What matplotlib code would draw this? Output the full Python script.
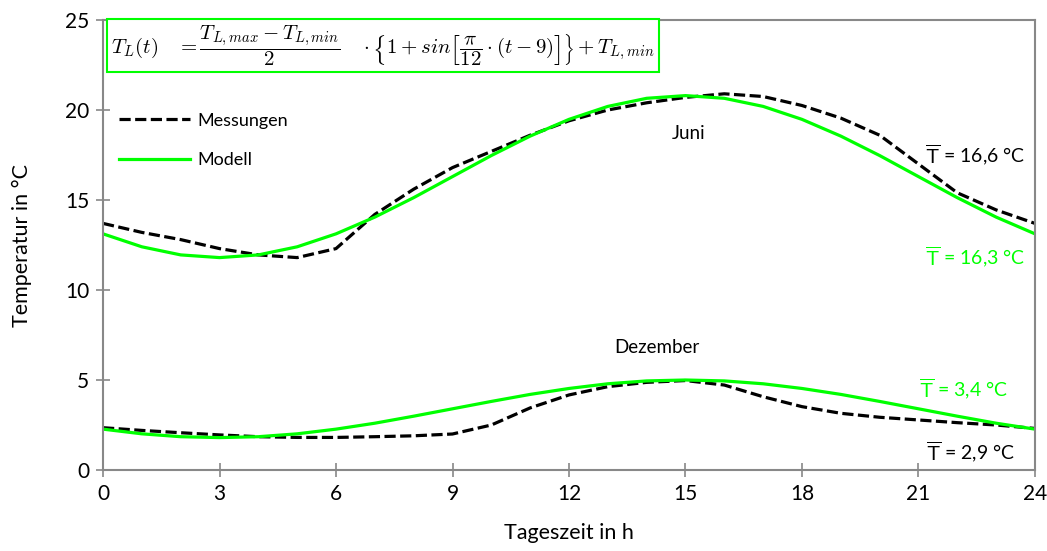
import matplotlib
matplotlib.use("Agg")
import matplotlib.pyplot as plt

plt.rcParams['font.family'] = ['Lato', 'DejaVu Sans']
plt.rcParams['mathtext.fontset'] = 'cm'

hours = list(range(25))

# Juni
juni_mess = [13.7, 13.2, 12.8, 12.3, 11.95, 11.8, 12.3, 14.2, 15.6, 16.8, 17.7, 18.6, 19.4,
             20.0, 20.4, 20.7, 20.9, 20.75, 20.25, 19.55, 18.6, 17.0, 15.4, 14.45, 13.7]
juni_mod = [13.12, 12.40, 11.95, 11.8, 11.95, 12.40, 13.12, 14.05, 15.13, 16.3, 17.47, 18.55, 19.48,
            20.20, 20.65, 20.8, 20.65, 20.20, 19.48, 18.55, 17.47, 16.3, 15.13, 14.05, 13.12]

# Dezember
dez_mess = [2.35, 2.2, 2.07, 1.95, 1.85, 1.81, 1.81, 1.85, 1.9, 2.0, 2.5, 3.45, 4.17,
            4.63, 4.87, 4.97, 4.72, 4.07, 3.52, 3.15, 2.93, 2.78, 2.63, 2.5, 2.31]
dez_mod = [2.27, 2.01, 1.85, 1.8, 1.85, 2.01, 2.27, 2.6, 2.99, 3.4, 3.81, 4.2, 4.53,
           4.79, 4.95, 5.0, 4.95, 4.79, 4.53, 4.2, 3.81, 3.4, 2.99, 2.6, 2.27]

xticks = [0, 3, 6, 9, 12, 15, 18, 21, 24]
yticks = [0, 5, 10, 15, 20, 25]

green = '#00ff00'
dash = (0, (3.5, 1.4))

fig = plt.figure(figsize=(10.47, 5.51), dpi=100)
ax = fig.add_axes([0.0984, 0.147, 0.8901, 0.8167])

ax.plot(hours, juni_mess, color='black', lw=2.3, linestyle=dash, label='Messungen')
ax.plot(hours, juni_mod, color=green, lw=2.3, label='Modell')
ax.plot(hours, dez_mess, color='black', lw=2.3, linestyle=dash)
ax.plot(hours, dez_mod, color=green, lw=2.3)

ax.set_xlim(0, 24)
ax.set_ylim(0, 25)
ax.set_xticks(xticks)
ax.set_yticks(yticks)
ax.tick_params(axis='both', direction='inout', length=10, width=1.2, color='#888888',
               labelsize=15, pad=5)
ax.tick_params(axis='x', pad=5)
for s in ax.spines.values():
    s.set_color('#888888')
    s.set_linewidth(1.5)

ax.set_xlabel('Tageszeit in h', fontsize=15.5, labelpad=14)
ax.set_ylabel('Temperatur in °C', fontsize=15.5, labelpad=24)

leg = ax.legend(loc='upper left', bbox_to_anchor=(0.0, 0.83), frameon=False, fontsize=13,
                handlelength=3.9, handletextpad=0.4, labelspacing=1.3)

ax.text(15.07, 18.7, 'Juni', fontsize=13.5, ha='center', va='center')
ax.text(14.27, 6.8, 'Dezember', fontsize=13.5, ha='center', va='center')
ax.text(23.75, 17.5, r'$\overline{\mathsf{T}}$ = 16,6 °C', fontsize=14, ha='right', va='center')
ax.text(23.75, 11.8, r'$\overline{\mathsf{T}}$ = 16,3 °C', fontsize=14, ha='right', va='center', color=green)
ax.text(23.3, 4.45, r'$\overline{\mathsf{T}}$ = 3,4 °C', fontsize=14, ha='right', va='center', color=green)
ax.text(23.5, 1.0, r'$\overline{\mathsf{T}}$ = 2,9 °C', fontsize=14, ha='right', va='center')

formel = (r'$T_L(t)\quad = \dfrac{T_{L,max}-T_{L,min}}{2}\quad \cdot \left\{1+sin\left[\dfrac{\pi}{12}'
          r'\cdot(t-9)\right]\right\}+T_{L,min}$')
ax.text(0.2, 23.6, formel, fontsize=15, ha='left', va='center',
        bbox=dict(boxstyle='square,pad=0.2', fc='white', ec=green, lw=1.5))

fig.savefig('out.png', dpi=100)
